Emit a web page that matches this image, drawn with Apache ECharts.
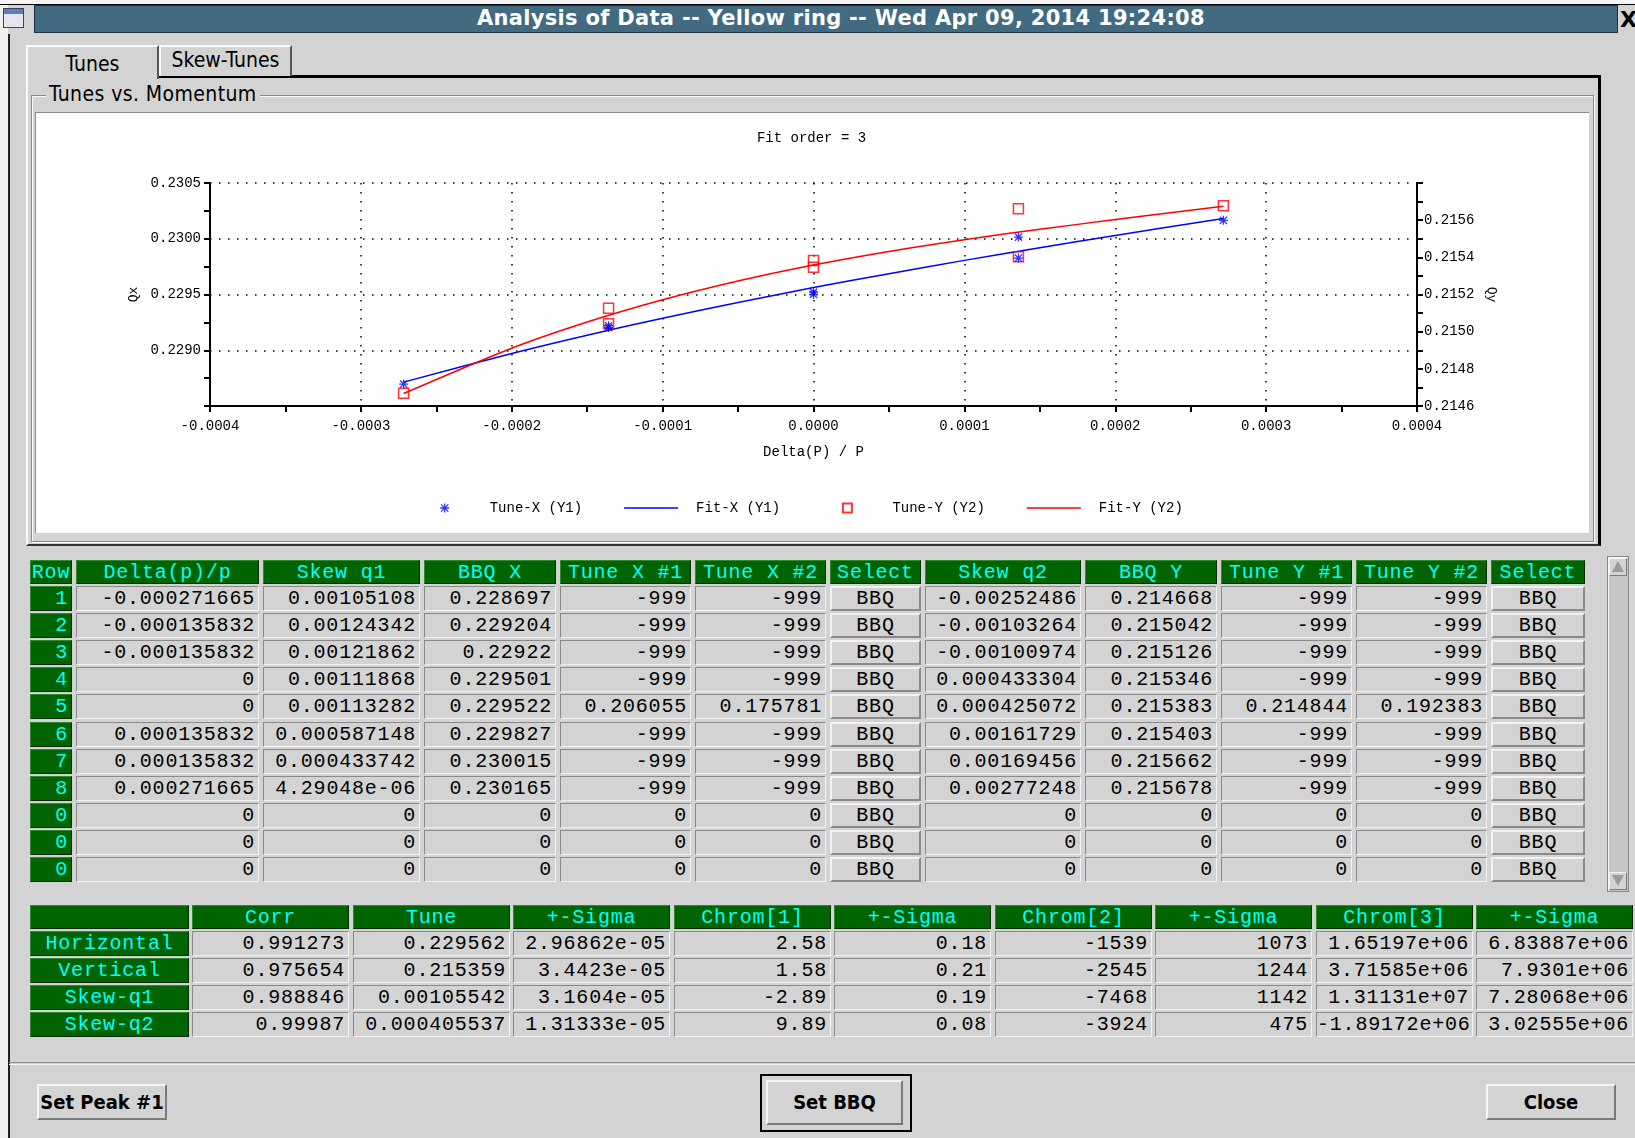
<!DOCTYPE html>
<html>
<head>
<meta charset="utf-8">
<title>Analysis of Data -- Yellow ring</title>
<script src="https://cdn.jsdelivr.net/npm/echarts@6.0.0/dist/echarts.min.js"></script>
<style>
  body { margin: 0; width: 1635px; height: 1138px; background: #d3d3d3; overflow: hidden; position: relative; }
  .abs { position: absolute; box-sizing: border-box; }
  .ui { font-family: 'DejaVu Sans Condensed', 'Liberation Sans Narrow', 'DejaVu Sans', sans-serif; color: #000; }
  .cell { font-family: 'Liberation Mono', 'DejaVu Sans Mono', monospace; font-size: 20px; letter-spacing: 0.8px;
          line-height: 23px; white-space: nowrap; overflow: hidden; }
  .g { background: #006400; color: #00ffff; border-top: 1px solid #2e8b2e; border-left: 1px solid #2e8b2e;
       border-right: 1px solid #002a00; border-bottom: 1px solid #002a00; }
  .d { background: #d3d3d3; color: #000; text-align: right; padding-right: 3px;
       border-top: 1px solid #8a8a8a; border-left: 1px solid #8a8a8a; border-right: 1px solid #f4f4f4; border-bottom: 1px solid #f4f4f4; }
  .b { background: #d3d3d3; color: #000; text-align: center;
       border-top: 2px solid #f2f2f2; border-left: 2px solid #f2f2f2; border-right: 2px solid #8a8a8a; border-bottom: 2px solid #8a8a8a; }
  .btn { background: #d3d3d3; text-align: center; font-size: 20px; font-weight: bold;
         border-top: 2px solid #f4f4f4; border-left: 2px solid #f4f4f4; border-right: 2px solid #7a7a7a; border-bottom: 2px solid #7a7a7a; }
</style>
</head>
<body>
<div id="page"></div>
<script>
// ---- table 1: measurements ----
const rowLabels = ['1', '2', '3', '4', '5', '6', '7', '8', '0', '0', '0'];
const deltaP = [-0.000271665, -0.000135832, -0.000135832, 0, 0, 0.000135832, 0.000135832, 0.000271665, 0, 0, 0];
const skewQ1 = [0.00105108, 0.00124342, 0.00121862, 0.00111868, 0.00113282, 0.000587148, 0.000433742, 4.29048e-06, 0, 0, 0];
const bbqX = [0.228697, 0.229204, 0.22922, 0.229501, 0.229522, 0.229827, 0.230015, 0.230165, 0, 0, 0];
const tuneX1 = [-999, -999, -999, -999, 0.206055, -999, -999, -999, 0, 0, 0];
const tuneX2 = [-999, -999, -999, -999, 0.175781, -999, -999, -999, 0, 0, 0];
const selectX = ['BBQ', 'BBQ', 'BBQ', 'BBQ', 'BBQ', 'BBQ', 'BBQ', 'BBQ', 'BBQ', 'BBQ', 'BBQ'];
const skewQ2 = [-0.00252486, -0.00103264, -0.00100974, 0.000433304, 0.000425072, 0.00161729, 0.00169456, 0.00277248, 0, 0, 0];
const bbqY = [0.214668, 0.215042, 0.215126, 0.215346, 0.215383, 0.215403, 0.215662, 0.215678, 0, 0, 0];
const tuneY1 = [-999, -999, -999, -999, 0.214844, -999, -999, -999, 0, 0, 0];
const tuneY2 = [-999, -999, -999, -999, 0.192383, -999, -999, -999, 0, 0, 0];
const selectY = ['BBQ', 'BBQ', 'BBQ', 'BBQ', 'BBQ', 'BBQ', 'BBQ', 'BBQ', 'BBQ', 'BBQ', 'BBQ'];
const measHeaders = ['Row', 'Delta(p)/p', 'Skew q1', 'BBQ X', 'Tune X #1', 'Tune X #2', 'Select',
                     'Skew q2', 'BBQ Y', 'Tune Y #1', 'Tune Y #2', 'Select'];

// ---- table 2: fit results ----
const fitRows = ['Horizontal', 'Vertical', 'Skew-q1', 'Skew-q2'];
const fitHeaders = ['', 'Corr', 'Tune', '+-Sigma', 'Chrom[1]', '+-Sigma', 'Chrom[2]', '+-Sigma', 'Chrom[3]', '+-Sigma'];
const fitCorr = [0.991273, 0.975654, 0.988846, 0.99987];
const fitTune = [0.229562, 0.215359, 0.00105542, 0.000405537];
const fitTuneSigma = [2.96862e-05, 3.4423e-05, 3.1604e-05, 1.31333e-05];
const fitChrom1 = [2.58, 1.58, -2.89, 9.89];
const fitChrom1Sigma = [0.18, 0.21, 0.19, 0.08];
const fitChrom2 = [-1539, -2545, -7468, -3924];
const fitChrom2Sigma = [1073, 1244, 1142, 475];
const fitChrom3 = [1.65197e+06, 3.71585e+06, 1.31131e+07, -1.89172e+06];
const fitChrom3Sigma = [6.83887e+06, 7.9301e+06, 7.28068e+06, 3.02555e+06];

// ---- fit curves ----
const fitDelta = [-0.000271665, -0.0002, -0.00015, -0.0001, -0.00005, 0, 0.00005, 0.0001, 0.00015, 0.0002, 0.000271665];
const fitXCurve = [0.228714, 0.228971, 0.229135, 0.229287, 0.229429, 0.229562, 0.229687, 0.229806, 0.22992, 0.23003, 0.230182];
const fitYCurve = [0.214667, 0.214911, 0.215052, 0.215172, 0.215273, 0.215359, 0.215432, 0.215495, 0.215551, 0.215603, 0.215675];

const nPoints = 8; // rows that hold real measurements

// printf %g style
function fmtG(v) {
  if (typeof v === 'string') return v;
  if (v === 0) return '0';
  const e = Math.floor(Math.log10(Math.abs(v)));
  if (e < -4 || e >= 6) {
    let [m, ex] = v.toExponential(5).split('e');
    if (m.indexOf('.') >= 0) m = m.replace(/0+$/, '').replace(/\.$/, '');
    let digits = ex.slice(1);
    if (digits.length < 2) digits = '0' + digits;
    return m + 'e' + ex[0] + digits;
  }
  let s = v.toPrecision(6);
  if (s.indexOf('.') >= 0) s = s.replace(/0+$/, '').replace(/\.$/, '');
  return s;
}

const page = document.getElementById('page');
function box(x, y, w, h, cls, text, extra) {
  const d = document.createElement('div');
  d.className = 'abs ' + (cls || '');
  d.style.left = x + 'px'; d.style.top = y + 'px';
  d.style.width = w + 'px'; d.style.height = h + 'px';
  if (text !== undefined) d.textContent = text;
  if (extra) Object.assign(d.style, extra);
  page.appendChild(d);
  return d;
}

// window frame
box(0, 0, 1635, 5, '', undefined, { background: '#f4f4f4' });
box(0, 4, 1635, 1, '', undefined, { background: '#000' });
box(0, 5, 8, 1133, '', undefined, { background: '#f0f0f0' });
box(8, 34, 2, 1104, '', undefined, { background: '#202020' });
// window icon
box(3, 8, 21, 20, '', undefined, { background: '#e6e6ee', border: '1px solid #444' });
box(4, 9, 19, 5, '', undefined, { background: '#5b7fc4' });
// title bar
box(34, 5, 1584, 28, '', undefined, { background: '#426b82', border: '1px solid #1d3340' });
box(34, 5, 1584, 28, '', 'Analysis of Data -- Yellow ring -- Wed Apr 09, 2014 19:24:08', {
  color: '#fff', font: 'bold 21px "DejaVu Sans", sans-serif', textAlign: 'center', lineHeight: '27px',
  paddingLeft: '30px', letterSpacing: '0.3px'
});
box(1620, 6, 20, 28, '', 'X', { font: 'bold 22px "DejaVu Sans", sans-serif', lineHeight: '28px', color: '#000' });

// notebook frame
box(26, 75, 1575, 471, '', undefined, {
  borderTop: '3px solid #000', borderRight: '3px solid #000', borderBottom: '2px solid #333', borderLeft: '2px solid #fafafa'
});
// tabs
box(26, 45, 133, 34, 'ui', 'Tunes', {
  background: '#d3d3d3', borderTop: '2px solid #fafafa', borderLeft: '2px solid #fafafa', borderRight: '2px solid #555',
  textAlign: 'center', fontSize: '21px', lineHeight: '34px'
});
box(159, 45, 133, 31, 'ui', 'Skew-Tunes', {
  background: '#d3d3d3', borderTop: '2px solid #fafafa', borderLeft: '2px solid #fafafa', borderRight: '2px solid #555',
  textAlign: 'center', fontSize: '21px', lineHeight: '26px'
});
// group box
box(31, 95, 1563, 447, '', undefined, { borderTop: '1px solid #8a8a8a', borderLeft: '1px solid #8a8a8a',
  borderRight: '1px solid #8a8a8a', borderBottom: '1px solid #8a8a8a', boxShadow: '1px 1px 0 #fafafa inset, 1px 1px 0 #fafafa' });
box(46, 82, 220, 26, 'ui', 'Tunes vs. Momentum', { background: '#d3d3d3', fontSize: '21px', lineHeight: '24px', width: 'auto', padding: '0 3px', letterSpacing: '0.4px' });
// plot area
box(35, 112, 1554, 421, '', undefined, { background: '#fff', borderTop: '1px solid #8a8a8a', borderLeft: '1px solid #8a8a8a' });
const chartDiv = box(36, 113, 1551, 419, '');

// ---- measurement table ----
const measCols = [[30, 42], [76, 183], [263, 157], [424, 132], [560, 131], [695, 131], [830, 91],
                  [925, 156], [1085, 132], [1221, 131], [1356, 131], [1491, 94]];
const measData = [rowLabels, deltaP, skewQ1, bbqX, tuneX1, tuneX2, selectX, skewQ2, bbqY, tuneY1, tuneY2, selectY];
measHeaders.forEach((h, c) => {
  box(measCols[c][0], 560, measCols[c][1], 24, 'cell g', h, { textAlign: 'center' });
});
rowLabels.forEach((_, r) => {
  const y = Math.round(586 + r * 27.1);
  measData.forEach((col, c) => {
    const [x, w] = measCols[c];
    if (c === 0) box(x, y, w, 25, 'cell g', col[r], { textAlign: 'right', paddingRight: '3px' });
    else if (c === 6 || c === 11) box(x, y, w, 25, 'cell b', col[r], { lineHeight: '21px' });
    else box(x, y, w, 25, 'cell d', fmtG(col[r]));
  });
});
// scrollbar
box(1607, 556, 22, 336, '', undefined, { background: '#c6c6c6', border: '1px solid #8a8a8a', boxShadow: '1px 1px 0 #f4f4f4 inset' });
box(1609, 558, 18, 18, '', undefined, { background: '#d3d3d3', borderTop: '1px solid #f4f4f4', borderLeft: '1px solid #f4f4f4', borderRight: '1px solid #7a7a7a', borderBottom: '1px solid #7a7a7a' });
box(1612, 561, 0, 0, '', undefined, { borderLeft: '6px solid transparent', borderRight: '6px solid transparent', borderBottom: '11px solid #9a9a9a' });
box(1609, 872, 18, 18, '', undefined, { background: '#d3d3d3', borderTop: '1px solid #f4f4f4', borderLeft: '1px solid #f4f4f4', borderRight: '1px solid #7a7a7a', borderBottom: '1px solid #7a7a7a' });
box(1612, 875, 0, 0, '', undefined, { borderLeft: '6px solid transparent', borderRight: '6px solid transparent', borderTop: '11px solid #9a9a9a' });

// ---- fit result table ----
const fitData = [fitCorr, fitTune, fitTuneSigma, fitChrom1, fitChrom1Sigma, fitChrom2, fitChrom2Sigma, fitChrom3, fitChrom3Sigma];
const fitColX = [30, 192, 353, 513, 674, 834, 995, 1155, 1316, 1476];
const fitColW = [159, 157, 157, 157, 157, 157, 157, 157, 157, 157];
fitHeaders.forEach((h, c) => {
  box(fitColX[c], 905, fitColW[c], 24, 'cell g', h, { textAlign: 'center' });
});
fitRows.forEach((name, r) => {
  const y = Math.round(931 + r * 27.1);
  box(fitColX[0], y, fitColW[0], 25, 'cell g', name, { textAlign: 'center' });
  fitData.forEach((col, c) => {
    box(fitColX[c + 1], y, fitColW[c + 1], 25, 'cell d', fmtG(col[r]));
  });
});

// ---- bottom buttons ----
box(9, 1062, 1626, 3, '', undefined, { borderTop: '1px solid #8a8a8a', borderBottom: '1px solid #f4f4f4' });
box(37, 1084, 130, 36, 'ui btn', 'Set Peak #1', { lineHeight: '32px' });
box(760, 1074, 152, 58, '', undefined, { border: '2px solid #000' });
box(766, 1080, 137, 45, 'ui btn', 'Set BBQ', { lineHeight: '41px' });
box(1486, 1084, 130, 36, 'ui btn', 'Close', { lineHeight: '32px' });

// ---- chart ----
const mono = "'Liberation Mono', 'DejaVu Sans Mono', monospace";
const tuneXPoints = deltaP.slice(0, nPoints).map((d, i) => [d, bbqX[i]]);
const tuneYPoints = deltaP.slice(0, nPoints).map((d, i) => [d, bbqY[i]]);
const fitXPoints = fitDelta.map((d, i) => [d, fitXCurve[i]]);
const fitYPoints = fitDelta.map((d, i) => [d, fitYCurve[i]]);
const asterisk = 'path://M4.3,0L5.7,0L5.7,10L4.3,10ZM0,4.3L10,4.3L10,5.7L0,5.7Z' +
                 'M0.5,1.5L1.5,0.5L9.5,8.5L8.5,9.5ZM8.5,0.5L9.5,1.5L1.5,9.5L0.5,8.5Z';
// square centred in a 54-wide legend slot (end points only widen the box)
const squareIcon = 'path://M0,5L0,5M54,5L54,5M22,0L32,0L32,10L22,10Z';
const lineIcon = 'path://M0,0L54,0L54,1.6L0,1.6Z';
const dotted = { color: '#000', width: 1.5, type: [1.5, 7.5] };
const axisBlack = { lineStyle: { color: '#000', width: 2 } };

const chart = echarts.init(chartDiv);
chart.setOption({
  animation: false,
  title: {
    text: 'Fit order = 3', left: 'center', top: 18, padding: 0,
    textStyle: { fontFamily: mono, fontSize: 14, fontWeight: 'normal', color: '#000' }
  },
  legend: {
    left: 'center', top: 388, padding: 0, itemWidth: 54, itemHeight: 9, itemGap: 42,
    textStyle: { fontFamily: mono, fontSize: 14, color: '#000', padding: [0, 0, 0, 13] },
    data: [
      { name: 'Tune-X (Y1)', icon: asterisk },
      { name: 'Fit-X (Y1)', icon: lineIcon },
      { name: 'Tune-Y (Y2)', icon: squareIcon },
      { name: 'Fit-Y (Y2)', icon: lineIcon }
    ]
  },
  grid: { left: 174, right: 170, top: 70, bottom: 126 },
  xAxis: {
    type: 'value', min: -0.0004, max: 0.0004, interval: 0.0001,
    name: 'Delta(P) / P', nameLocation: 'middle', nameGap: 39,
    nameTextStyle: { fontFamily: mono, fontSize: 14, color: '#000' },
    axisLine: { onZero: false, ...axisBlack },
    axisTick: { length: 6, ...axisBlack },
    minorTick: { show: true, splitNumber: 2, length: 6, ...axisBlack },
    axisLabel: { fontFamily: mono, fontSize: 14, color: '#000', margin: 13, formatter: v => v.toFixed(4) },
    splitLine: { show: true, lineStyle: dotted }
  },
  yAxis: [{
    type: 'value', position: 'left', min: 0.2285, max: 0.2305, interval: 0.0005,
    name: 'Qx', nameLocation: 'middle', nameGap: 68, nameRotate: 90,
    nameTextStyle: { fontFamily: mono, fontSize: 13, color: '#000' },
    axisLine: { show: true, onZero: false, ...axisBlack },
    axisTick: { show: true, length: 6, ...axisBlack },
    minorTick: { show: true, splitNumber: 2, length: 6, ...axisBlack },
    axisLabel: { fontFamily: mono, fontSize: 14, color: '#000', margin: 9, showMinLabel: false, formatter: v => v.toFixed(4) },
    splitLine: { show: true, lineStyle: dotted }
  }, {
    type: 'value', position: 'right', min: 0.2146, max: 0.2158, interval: 0.0002,
    name: 'Qy', nameLocation: 'middle', nameGap: 68, nameRotate: -90,
    nameTextStyle: { fontFamily: mono, fontSize: 13, color: '#000' },
    axisLine: { show: true, onZero: false, ...axisBlack },
    axisTick: { show: true, length: 6, ...axisBlack },
    minorTick: { show: true, splitNumber: 2, length: 6, ...axisBlack },
    axisLabel: { fontFamily: mono, fontSize: 14, color: '#000', margin: 7, showMaxLabel: false, formatter: v => v.toFixed(4) },
    splitLine: { show: false }
  }],
  series: [{
    name: 'Tune-X (Y1)', type: 'scatter', yAxisIndex: 0, data: tuneXPoints, z: 4,
    symbol: asterisk, symbolSize: 9, itemStyle: { color: '#0000ff' }
  }, {
    name: 'Fit-X (Y1)', type: 'line', yAxisIndex: 0, data: fitXPoints, z: 2,
    symbol: 'none', smooth: 0.3, lineStyle: { color: '#0000ff', width: 1.5 }, itemStyle: { color: '#0000ff' }
  }, {
    name: 'Tune-Y (Y2)', type: 'scatter', yAxisIndex: 1, data: tuneYPoints, z: 3,
    symbol: 'rect', symbolSize: 10,
    itemStyle: { color: 'rgba(255,255,255,0)', borderColor: '#ff0000', borderWidth: 1.5 }
  }, {
    name: 'Fit-Y (Y2)', type: 'line', yAxisIndex: 1, data: fitYPoints, z: 2,
    symbol: 'none', smooth: 0.3, lineStyle: { color: '#ff0000', width: 1.5 }, itemStyle: { color: '#ff0000' }
  }]
});
</script>
</body>
</html>
